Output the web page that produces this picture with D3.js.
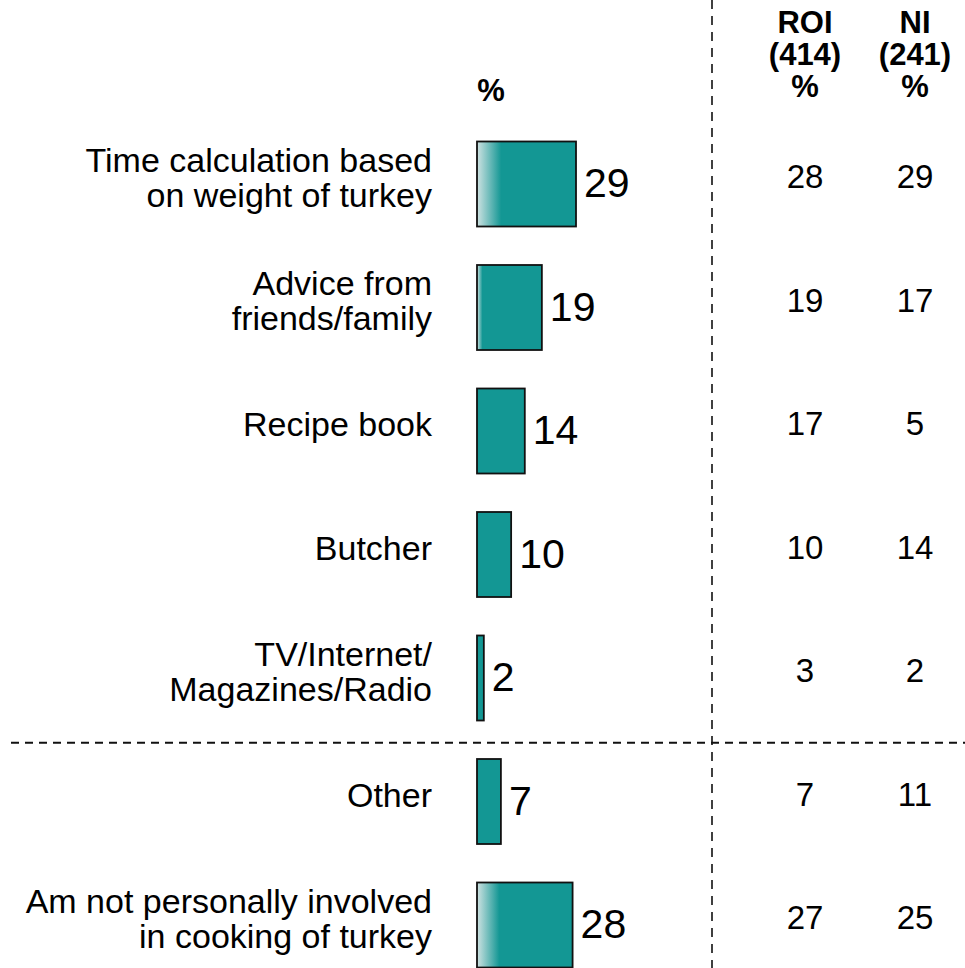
<!DOCTYPE html>
<html>
<head>
<meta charset="utf-8">
<script src="https://cdn.jsdelivr.net/npm/d3@7"></script>
<style>
  body { margin: 0; background: #fff; }
  svg { display: block; font-family: "Liberation Sans", Arial, sans-serif; }
</style>
</head>
<body>
<svg id="chart"></svg>
<script>
// Data
const categories = [
  ['Time calculation based', 'on weight of turkey'],
  ['Advice from', 'friends/family'],
  ['Recipe book'],
  ['Butcher'],
  ['TV/Internet/', 'Magazines/Radio'],
  ['Other'],
  ['Am not personally involved', 'in cooking of turkey']
];
const totals = [29, 19, 14, 10, 2, 7, 28];
const roiValues = [28, 19, 17, 10, 3, 7, 27];
const niValues = [29, 17, 5, 14, 2, 11, 25];
const columnHeads = [['ROI', '(414)', '%'], ['NI', '(241)', '%']];
const splitAfter = 4; // dashed separator after this row

const width = 965;
const height = 968;
const teal = '#139794';

const svg = d3.select('#chart')
  .attr('width', width)
  .attr('height', height);

const rows = d3.range(categories.length);

// row centres
const yScale = d3.scalePoint()
  .domain(rows)
  .range([184, 925]);

const xScale = d3.scaleLinear()
  .domain([0, 29])
  .range([477, 576]);

const barHeight = 85;

// gradients for the wider bars (light left edge)
const defs = svg.append('defs');
rows.forEach(i => {
  const w = xScale(totals[i]) - xScale(0);
  const fade = Math.max(0, (w - 55) * 0.55);
  const g = defs.append('linearGradient')
    .attr('id', 'grad' + i)
    .attr('x1', 0).attr('x2', 1).attr('y1', 0).attr('y2', 0);
  g.append('stop').attr('offset', 0).attr('stop-color', fade > 0 ? '#cfe2e2' : teal);
  g.append('stop').attr('offset', fade / w).attr('stop-color', teal);
  g.append('stop').attr('offset', 1).attr('stop-color', teal);
});

// separators
svg.append('line')
  .attr('x1', 712).attr('x2', 712)
  .attr('y1', 0).attr('y2', height)
  .attr('stroke', '#111')
  .attr('stroke-width', 1.6)
  .attr('stroke-dasharray', '9,7');

const sepY = (yScale(splitAfter) + yScale(splitAfter + 1)) / 2 + 3;
svg.append('line')
  .attr('x1', 11).attr('x2', width)
  .attr('y1', sepY).attr('y2', sepY)
  .attr('stroke', '#111')
  .attr('stroke-width', 1.8)
  .attr('stroke-dasharray', '8,6');

// bars
svg.selectAll('.bar')
  .data(rows)
  .enter()
  .append('rect')
  .attr('class', 'bar')
  .attr('x', xScale(0))
  .attr('y', i => yScale(i) - barHeight / 2)
  .attr('width', i => xScale(totals[i]) - xScale(0))
  .attr('height', barHeight)
  .attr('fill', i => `url(#grad${i})`)
  .attr('stroke', '#111')
  .attr('stroke-width', 1.8);

// bar values
svg.selectAll('.val')
  .data(rows)
  .enter()
  .append('text')
  .attr('class', 'val')
  .attr('x', i => xScale(totals[i]) + 8)
  .attr('y', i => yScale(i) + 13)
  .attr('font-size', 41)
  .attr('fill', '#000')
  .text(i => totals[i]);

// category labels
const lineH = 35;
const labels = svg.selectAll('.cat')
  .data(rows)
  .enter()
  .append('text')
  .attr('class', 'cat')
  .attr('text-anchor', 'end')
  .attr('font-size', 34)
  .attr('fill', '#000');

labels.selectAll('tspan')
  .data(i => categories[i].map((t, k) => ({ t, k, n: categories[i].length, i })))
  .enter()
  .append('tspan')
  .attr('x', 432)
  .attr('y', d => yScale(d.i) + 5 + (d.k - (d.n - 1) / 2) * lineH)
  .text(d => d.t);

// right columns
const colX = [805, 915];
[roiValues, niValues].forEach((vals, c) => {
  svg.selectAll('.col' + c)
    .data(rows)
    .enter()
    .append('text')
    .attr('class', 'col' + c)
    .attr('x', colX[c])
    .attr('y', i => yScale(i) + 4)
    .attr('text-anchor', 'middle')
    .attr('font-size', 33)
    .attr('fill', '#000')
    .text(i => vals[i]);

  svg.append('text')
    .attr('text-anchor', 'middle')
    .attr('font-size', 31)
    .attr('font-weight', 'bold')
    .selectAll('tspan')
    .data(columnHeads[c])
    .enter()
    .append('tspan')
    .attr('x', colX[c])
    .attr('y', (d, k) => 33 + k * 32)
    .text(d => d);
});

// header over the bars
svg.append('text')
  .attr('x', 491)
  .attr('y', 101)
  .attr('text-anchor', 'middle')
  .attr('font-size', 31)
  .attr('font-weight', 'bold')
  .text('%');
</script>
</body>
</html>
